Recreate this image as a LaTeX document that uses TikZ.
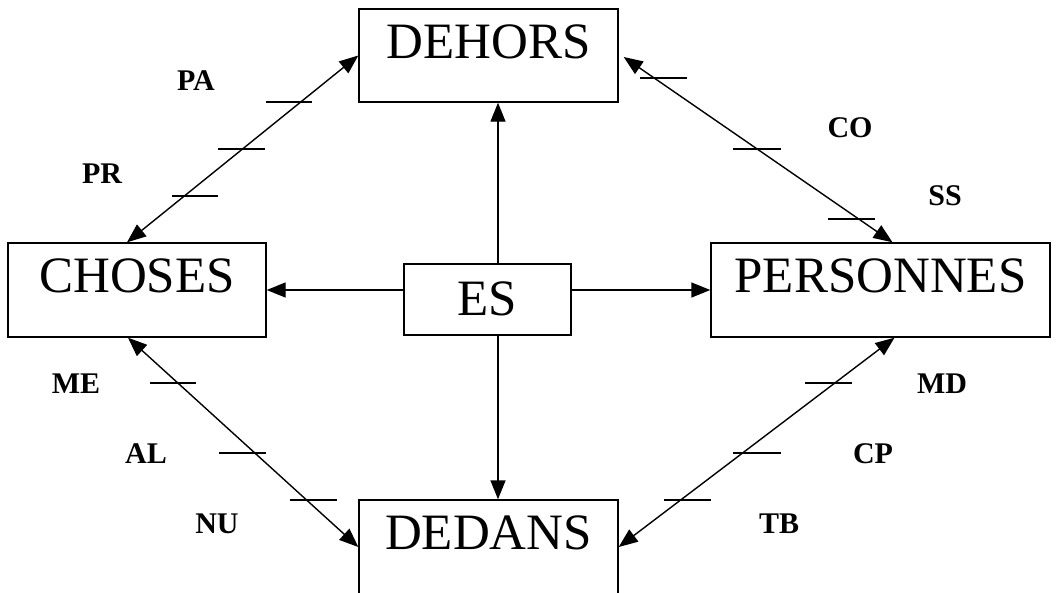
\documentclass[tikz,border=0pt]{standalone}
\usepackage{fontspec}
\setmainfont{Liberation Serif}
\usetikzlibrary{arrows.meta}
\begin{document}
\begin{tikzpicture}[x=1pt,y=-1pt,
  box/.style={draw, line width=1.4pt, inner sep=0pt, anchor=base, font=\fontsize{51}{51}\selectfont, text height=49pt},
  esbox/.style={draw, line width=2.8pt, inner sep=0pt, anchor=base, font=\fontsize{51}{51}\selectfont},
  lab/.style={anchor=base, font=\fontsize{30}{30}\selectfont\bfseries, inner sep=0pt},
  arr/.style={line width=1.4pt, -{Triangle[length=19pt,width=15pt]}},
  darr/.style={line width=1.4pt, {Triangle[length=19pt,width=15pt]}-{Triangle[length=19pt,width=15pt]}},
  tick/.style={line width=1.4pt}]
\useasboundingbox (0,0) rectangle (1056,592);
\fill[white] (0,0) rectangle (1056,592);
% boxes
\node[box, text depth=44pt, minimum width=259pt] (DEHORS) at (488.5,58) {DEHORS};
\node[box, text depth=45pt, minimum width=258pt] (CHOSES) at (137,292) {CHOSES};
\node[box, text depth=45pt, minimum width=339pt] (PERSONNES) at (880.5,292) {PERSONNES};
\node[box, text depth=45pt, minimum width=259pt] (DEDANS) at (488.5,549) {DEDANS};
\node[esbox, text height=51pt, text depth=20pt, minimum width=167pt] (ES) at (487.5,315) {ES};
% straight arrows from ES
\draw[arr] ([xshift=10.5pt]ES.north) -- ([xshift=10.5pt]ES.north |- DEHORS.south);
\draw[arr] ([xshift=10.5pt]ES.south) -- ([xshift=10.5pt]ES.south |- DEDANS.north);
\draw[arr] (ES.west |- CHOSES.east) -- (CHOSES.east);
\draw[arr] (ES.east |- PERSONNES.west) -- (PERSONNES.west);
% diagonal double arrows
\draw[darr] ([xshift=-10pt]CHOSES.north) -- (DEHORS.west);
\draw[darr] ([yshift=-1.5pt,xshift=5pt]DEHORS.east) -- ([xshift=12pt]PERSONNES.north);
\draw[darr] ([xshift=14pt]PERSONNES.south) -- (DEDANS.east);
\draw[darr] ([xshift=-9pt]CHOSES.south) -- (DEDANS.west);
% ticks
\draw[tick] (266,102) -- (312,102);
\draw[tick] (218,149) -- (265,149);
\draw[tick] (172,196) -- (218,196);
\draw[tick] (640,78) -- (687,78);
\draw[tick] (733,149) -- (781,149);
\draw[tick] (828,219) -- (875,219);
\draw[tick] (805,383) -- (852,383);
\draw[tick] (733,453) -- (781,453);
\draw[tick] (664,500) -- (711,500);
\draw[tick] (150,383) -- (196,383);
\draw[tick] (219,453) -- (266,453);
\draw[tick] (290,500) -- (337,500);
% labels
\node[lab] (PA) at (196,90) {PA};
\node[lab] (PR) at (102,183) {PR};
\node[lab] (CO) at (850,137) {CO};
\node[lab] (SS) at (945,205) {SS};
\node[lab] (ME) at (76,393) {ME};
\node[lab] (AL) at (146,463) {AL};
\node[lab] (NU) at (217,533) {NU};
\node[lab] (MD) at (942,393) {MD};
\node[lab] (CP) at (873,463) {CP};
\node[lab] (TB) at (779,533) {TB};
\end{tikzpicture}
\end{document}
